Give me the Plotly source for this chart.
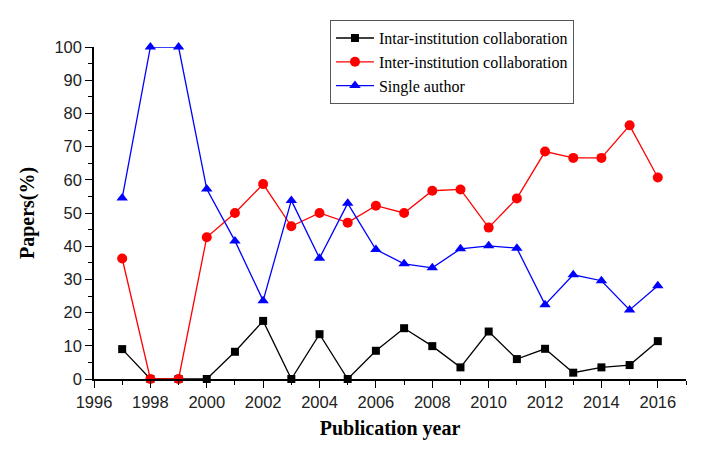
import plotly.graph_objs as go

years = list(range(1997, 2017))
intra = [9.0, 0, 0, 0, 8.2, 17.5, 0, 13.5, 0, 8.5,
         15.3, 9.9, 3.5, 14.3, 6.0, 9.1, 1.9, 3.5, 4.2, 11.4]
inter = [36.3, 0, 0, 42.7, 50.0, 58.7, 46.0, 50.0, 47.1, 52.2,
         50.0, 56.7, 57.1, 45.6, 54.4, 68.5, 66.6, 66.6, 76.4, 60.7]
single = [54.5, 100, 100, 57.2, 41.6, 23.6, 53.8, 36.4, 52.9, 39.0,
          34.7, 33.5, 39.2, 40.1, 39.4, 22.4, 31.4, 29.6, 20.8, 28.1]

fig = go.Figure()
fig.add_trace(go.Scatter(x=years, y=intra, name='Intar-institution collaboration', mode='lines+markers',
                         line=dict(color='black', width=1.3), marker=dict(symbol='square', size=8, color='black'),
                         cliponaxis=False))
fig.add_trace(go.Scatter(x=years, y=inter, name='Inter-institution collaboration', mode='lines+markers',
                         line=dict(color='#ff0000', width=1.3), marker=dict(symbol='circle', size=10, color='#ff0000'),
                         cliponaxis=False))
fig.add_trace(go.Scatter(x=years, y=single, name='Single author', mode='lines+markers',
                         line=dict(color='#0000ff', width=1.3), marker=dict(symbol='triangle-up', size=10, color='#0000ff'),
                         cliponaxis=False))

axis_font = dict(family='Liberation Sans, Arial', size=16.5, color='#222222')
title_font = dict(family='Liberation Serif, Times New Roman', size=20, color='black')

fig.update_xaxes(range=[1996, 2017], dtick=2, tick0=1996, ticks='outside', ticklen=7, tickwidth=1.3,
                 tickcolor='black', showline=True, linecolor='black', linewidth=1.5, showgrid=False,
                 zeroline=False, tickfont=axis_font,
                 minor=dict(dtick=1, tick0=1996, ticks='outside', ticklen=4, tickcolor='black', showgrid=False),
                 title=dict(text='<b>Publication year</b>', font=title_font, standoff=11))
fig.update_yaxes(range=[0, 100], dtick=10, ticks='outside', ticklen=7, tickwidth=1.3,
                 tickcolor='black', showline=True, linecolor='black', linewidth=1.5, showgrid=False,
                 zeroline=False, tickfont=axis_font,
                 minor=dict(dtick=5, ticks='outside', ticklen=4, tickcolor='black', showgrid=False),
                 title=dict(text='<b>Papers(%)</b>', font=title_font, standoff=14))

# page body has an 8px margin, so the figure is a bit smaller and shifted
fig.update_layout(width=696, height=441, margin=dict(l=86, r=18, t=39, b=70, autoexpand=False),
                  plot_bgcolor='white', paper_bgcolor='white',
                  legend=dict(x=0.3986, y=1.081, xanchor='left', yanchor='top',
                              font=dict(family='Liberation Serif, Times New Roman', size=16, color='black'),
                              bordercolor='#555555', borderwidth=1, bgcolor='white',
                              tracegroupgap=0, itemwidth=38),
                  showlegend=True)

fig.write_html("out.html")
